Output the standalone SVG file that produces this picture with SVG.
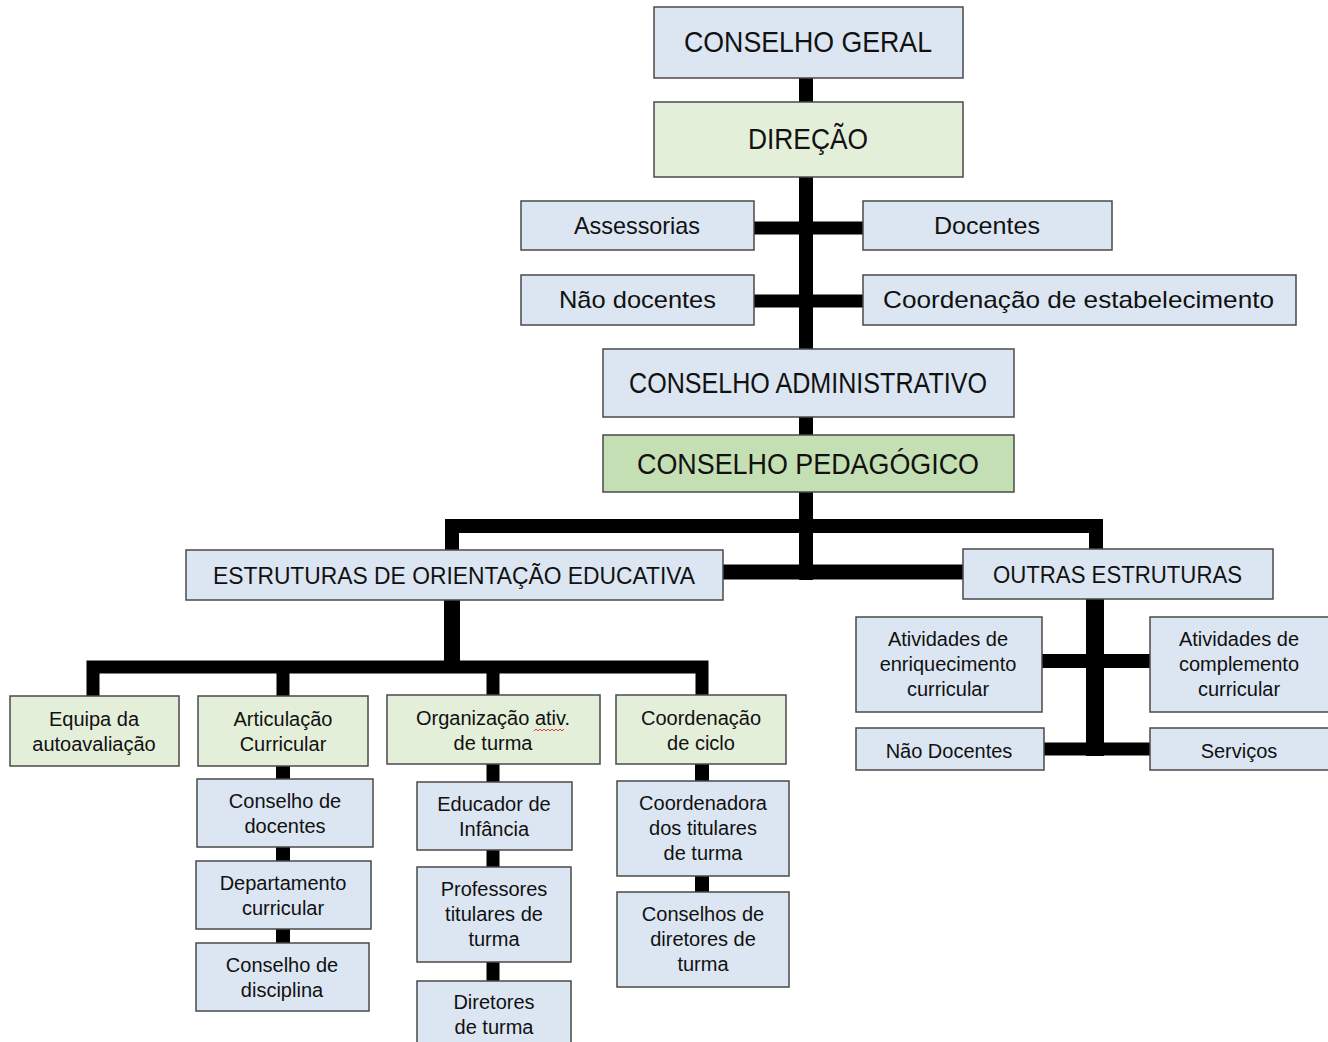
<svg xmlns="http://www.w3.org/2000/svg" width="1328" height="1042" viewBox="0 0 1328 1042">
<style>
.b{fill:#dce6f2;stroke:#4a4a4a;stroke-width:1.5}
.g{fill:#e4efd9;stroke:#4a4a4a;stroke-width:1.5}
.gd{fill:#c4dfb3;stroke:#4a4a4a;stroke-width:1.5}
text{font-family:"Liberation Sans",Arial,sans-serif;fill:#111}
.lg{font-size:29px}
.md{font-size:24px}
.sm{font-size:20px;text-anchor:middle}
.c{fill:none;stroke:#000;stroke-linejoin:miter}
</style>
<rect width="1328" height="1042" fill="#fff"/>
<g id="connectors">
<path class="c" stroke-width="14" d="M806,78V102M806,177V349M806,417V435M806,492V580"/>
<path class="c" stroke-width="13" d="M754,228H863M754,301H863"/>
<path class="c" stroke-width="15" d="M723,572H963"/>
<path class="c" stroke-width="14" d="M452,550V526H1096V549"/>
<path class="c" stroke-width="16" d="M452,600V667"/>
<path class="c" stroke-width="13" d="M93,696V667H702V695M283,667V696M493,667V695"/>
<path class="c" stroke-width="14" d="M283,766V779M283,847V861M283,929V943"/>
<path class="c" stroke-width="13" d="M493,764V782M493,850V867M493,962V981"/>
<path class="c" stroke-width="14" d="M702,764V781M702,876V892"/>
<path class="c" stroke-width="18" d="M1095,599V756"/>
<path class="c" stroke-width="14" d="M1042,661H1150"/>
<path class="c" stroke-width="13" d="M1044,749H1150"/>
</g>
<g id="conselho-geral"><rect class="b" x="654" y="7" width="309" height="71"/><text class="lg" x="684" y="52" textLength="248" lengthAdjust="spacingAndGlyphs">CONSELHO GERAL</text></g>
<g id="direcao"><rect class="g" x="654" y="102" width="309" height="75"/><text class="lg" x="748" y="149" textLength="120" lengthAdjust="spacingAndGlyphs">DIREÇÃO</text></g>
<g id="assessorias"><rect class="b" x="521" y="201" width="233" height="49"/><text class="md" x="574" y="234" textLength="126" lengthAdjust="spacingAndGlyphs">Assessorias</text></g>
<g id="docentes"><rect class="b" x="863" y="201" width="249" height="49"/><text class="md" x="934" y="234" textLength="106" lengthAdjust="spacingAndGlyphs">Docentes</text></g>
<g id="nao-docentes"><rect class="b" x="521" y="275" width="233" height="50"/><text class="md" x="559" y="308" textLength="157" lengthAdjust="spacingAndGlyphs">Não docentes</text></g>
<g id="coord-estabelecimento"><rect class="b" x="863" y="275" width="433" height="50"/><text class="md" x="883" y="308" textLength="391" lengthAdjust="spacingAndGlyphs">Coordenação de estabelecimento</text></g>
<g id="conselho-administrativo"><rect class="b" x="603" y="349" width="411" height="68"/><text class="lg" x="629" y="393" textLength="358" lengthAdjust="spacingAndGlyphs">CONSELHO ADMINISTRATIVO</text></g>
<g id="conselho-pedagogico"><rect class="gd" x="603" y="435" width="411" height="57"/><text class="lg" x="637" y="474" textLength="342" lengthAdjust="spacingAndGlyphs">CONSELHO PEDAGÓGICO</text></g>
<g id="eoe"><rect class="b" x="186" y="550" width="537" height="50"/><text class="md" x="213" y="584" textLength="482" lengthAdjust="spacingAndGlyphs">ESTRUTURAS DE ORIENTAÇÃO EDUCATIVA</text></g>
<g id="outras"><rect class="b" x="963" y="549" width="310" height="50"/><text class="md" x="993" y="583" textLength="249" lengthAdjust="spacingAndGlyphs">OUTRAS ESTRUTURAS</text></g>
<g id="equipa"><rect class="g" x="10" y="696" width="169" height="70"/><text class="sm" x="94" y="726">Equipa da</text><text class="sm" x="94" y="751">autoavaliação</text></g>
<g id="articulacao"><rect class="g" x="198" y="696" width="170" height="70"/><text class="sm" x="283" y="726">Articulação</text><text class="sm" x="283" y="751">Curricular</text></g>
<g id="organizacao"><rect class="g" x="387" y="695" width="213" height="69"/><text class="sm" x="493" y="725">Organização ativ.</text><text class="sm" x="493" y="750">de turma</text><path d="M534,731l2,-2l2,2l2,-2l2,2l2,-2l2,2l2,-2l2,2l2,-2l2,2l2,-2l2,2l2,-2l2,2l2,-2" fill="none" stroke="#e03c3c" stroke-width="1"/></g>
<g id="coord-ciclo"><rect class="g" x="616" y="695" width="170" height="69"/><text class="sm" x="701" y="725">Coordenação</text><text class="sm" x="701" y="750">de ciclo</text></g>
<g id="conselho-docentes"><rect class="b" x="197" y="779" width="176" height="68"/><text class="sm" x="285" y="808">Conselho de</text><text class="sm" x="285" y="833">docentes</text></g>
<g id="departamento"><rect class="b" x="196" y="861" width="175" height="68"/><text class="sm" x="283" y="890">Departamento</text><text class="sm" x="283" y="915">curricular</text></g>
<g id="conselho-disciplina"><rect class="b" x="196" y="943" width="173" height="68"/><text class="sm" x="282" y="972">Conselho de</text><text class="sm" x="282" y="997">disciplina</text></g>
<g id="educador"><rect class="b" x="417" y="782" width="155" height="68"/><text class="sm" x="494" y="811">Educador de</text><text class="sm" x="494" y="836">Infância</text></g>
<g id="professores"><rect class="b" x="417" y="867" width="154" height="95"/><text class="sm" x="494" y="896">Professores</text><text class="sm" x="494" y="921">titulares de</text><text class="sm" x="494" y="946">turma</text></g>
<g id="diretores"><rect class="b" x="417" y="981" width="154" height="66"/><text class="sm" x="494" y="1009">Diretores</text><text class="sm" x="494" y="1034">de turma</text></g>
<g id="coordenadora"><rect class="b" x="617" y="781" width="172" height="95"/><text class="sm" x="703" y="810">Coordenadora</text><text class="sm" x="703" y="835">dos titulares</text><text class="sm" x="703" y="860">de turma</text></g>
<g id="conselhos-diretores"><rect class="b" x="617" y="892" width="172" height="95"/><text class="sm" x="703" y="921">Conselhos de</text><text class="sm" x="703" y="946">diretores de</text><text class="sm" x="703" y="971">turma</text></g>
<g id="enriquecimento"><rect class="b" x="856" y="617" width="186" height="95"/><text class="sm" x="948" y="646">Atividades de</text><text class="sm" x="948" y="671">enriquecimento</text><text class="sm" x="948" y="696">curricular</text></g>
<g id="complemento"><rect class="b" x="1150" y="617" width="180" height="95"/><text class="sm" x="1239" y="646">Atividades de</text><text class="sm" x="1239" y="671">complemento</text><text class="sm" x="1239" y="696">curricular</text></g>
<g id="nao-docentes-2"><rect class="b" x="856" y="728" width="188" height="42"/><text class="sm" x="949" y="758">Não Docentes</text></g>
<g id="servicos"><rect class="b" x="1150" y="728" width="180" height="42"/><text class="sm" x="1239" y="758">Serviços</text></g>
</svg>
